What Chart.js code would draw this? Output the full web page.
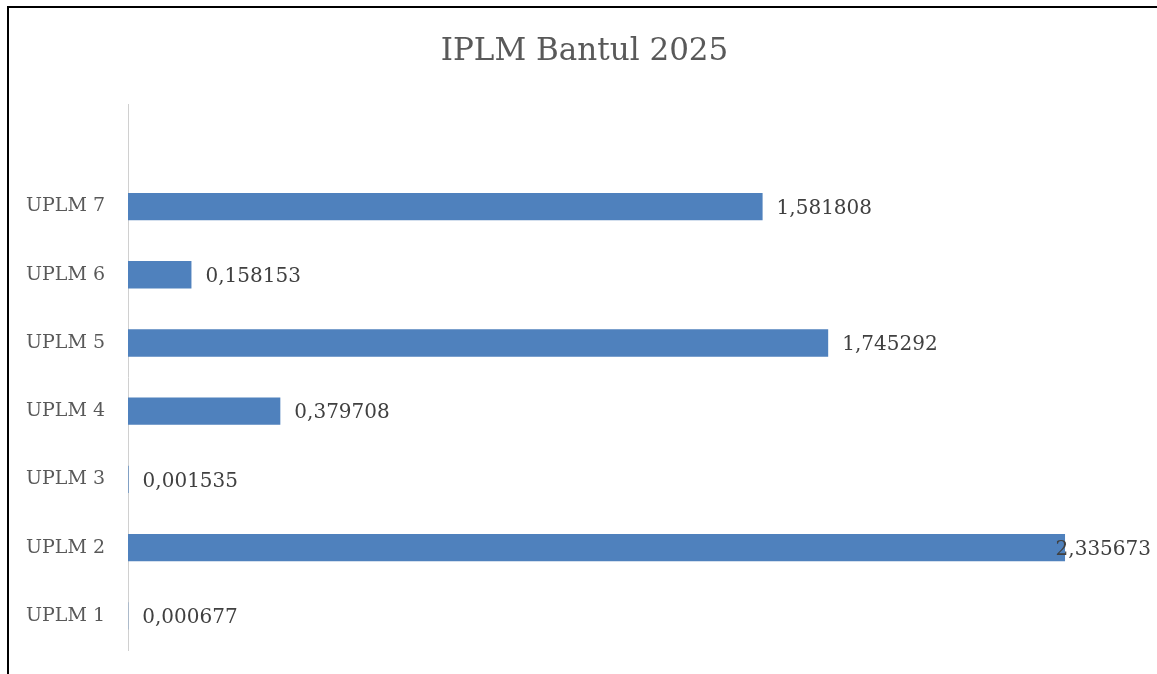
<!DOCTYPE html>
<html>
<head>
<meta charset="utf-8">
<script src="https://cdn.jsdelivr.net/npm/chart.js@4"></script>
<style>
    body { margin: 0; background: #fff; overflow: hidden; }
    #frame {
        position: absolute; left: 7px; top: 6px;
        width: 2000px; height: 2000px;
        border-left: 2px solid #000; border-top: 2px solid #000;
    }
    #wrap { position: absolute; left: 0; top: 0; width: 1157px; height: 674px; }
</style>
</head>
<body>
<div id="frame"></div>
<div id="wrap"><canvas id="chart_iplm"></canvas></div>
<script>
// categories, bottom to top (the last empty slot is the gap above UPLM 7)
let categories = ['UPLM 1', 'UPLM 2', 'UPLM 3', 'UPLM 4', 'UPLM 5', 'UPLM 6', 'UPLM 7', ''];
let values = [0.000677, 2.335673, 0.001535, 0.379708, 1.745292, 0.158153, 1.581808, null];

let serif = "'DejaVu Serif', 'Liberation Serif', serif";

// value labels at the end of each bar, comma decimals
let barLabels = {
    id: 'barLabels',
    afterDatasetsDraw(chart) {
        let ctx = chart.ctx;
        let meta = chart.getDatasetMeta(0);
        ctx.save();
        ctx.font = '20px ' + serif;
        ctx.fillStyle = '#404040';
        ctx.textBaseline = 'middle';
        meta.data.forEach(function (bar, i) {
            let v = values[i];
            if (v === null) return;
            let txt = v.toFixed(6).replace('.', ',');
            let w = ctx.measureText(txt).width;
            let x = bar.x + 14;
            if (x + w > chart.width - 6) x = chart.width - 6 - w;
            ctx.fillText(txt, x, bar.y + 2);
        });
        ctx.restore();
    }
};

let ctx_iplm = document.getElementById("chart_iplm");
let chart_iplm = new Chart(ctx_iplm, {
    type: 'bar',
    data: {
        labels: categories,
        datasets: [{
            label: 'IPLM',
            data: values,
            backgroundColor: '#4F81BD',
            borderWidth: 0,
            barPercentage: 0.4,
            categoryPercentage: 1
        }]
    },
    options: {
        indexAxis: 'y',
        responsive: true,
        maintainAspectRatio: false,
        animation: false,
        layout: {
            padding: { left: 26, right: 14, top: 33, bottom: 24 }
        },
        scales: {
            x: {
                display: false,
                min: 0,
                max: 2.53
            },
            y: {
                reverse: true,
                afterFit(scale) { scale.width = 102; },
                grid: { display: false },
                border: { display: true, color: '#d0d0d0', width: 1 },
                ticks: {
                    crossAlign: 'far',
                    color: '#595959',
                    font: { family: serif, size: 19 }
                }
            }
        },
        plugins: {
            legend: { display: false },
            tooltip: { enabled: false },
            title: {
                display: true,
                text: 'IPLM Bantul 2025',
                color: '#595959',
                font: { family: serif, size: 31, weight: 'normal', lineHeight: 1.2 },
                padding: { top: 0, bottom: 34 }
            }
        }
    },
    plugins: [barLabels]
});
</script>
</body>
</html>
